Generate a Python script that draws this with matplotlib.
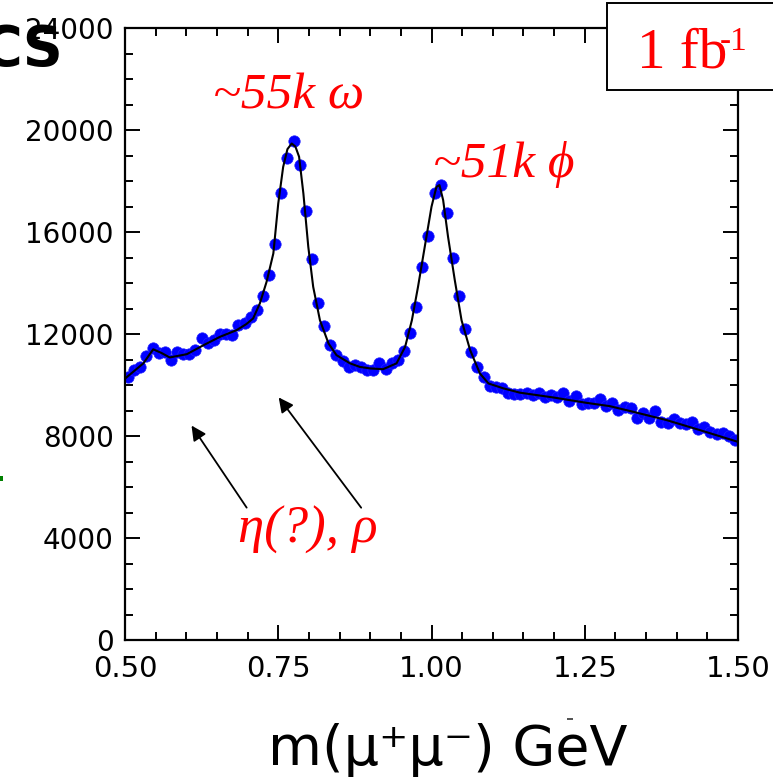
import matplotlib
matplotlib.use("Agg")
import matplotlib.pyplot as plt
import numpy as np
from matplotlib.patches import Rectangle
from matplotlib.ticker import MultipleLocator

# ---- data ----
mass = [round(0.505 + 0.01 * i, 3) for i in range(100)]
counts = [
    10320, 10580, 10710, 11130, 11460, 11240, 11280, 10980, 11280, 11210,
    11210, 11370, 11850, 11630, 11760, 12000, 12000, 11960, 12350, 12440,
    12670, 12960, 13500, 14300, 15530, 17510, 18920, 19560, 18620, 16830,
    14940, 13200, 12310, 11550, 11170, 10950, 10700, 10780, 10710, 10600,
    10590, 10850, 10610, 10870, 10980, 11330, 12050, 13040, 14630, 15850,
    17510, 17840, 16750, 14990, 13490, 12180, 11300, 10710, 10320, 9960,
    9930, 9870, 9670, 9640, 9640, 9670, 9600, 9700, 9510, 9600,
    9540, 9670, 9380, 9580, 9250, 9280, 9280, 9470, 9160, 9300,
    9020, 9150, 9080, 8690, 8890, 8690, 8990, 8560, 8520, 8650,
    8520, 8470, 8530, 8260, 8340, 8170, 8060, 8100, 8000, 7840,
]

fit_x = [0.500, 0.515, 0.530, 0.546, 0.560, 0.573, 0.601, 0.628, 0.655, 0.682,
         0.698, 0.709, 0.720, 0.731, 0.742, 0.750, 0.758, 0.765, 0.772, 0.778,
         0.784, 0.791, 0.799, 0.807, 0.818, 0.832, 0.845, 0.867, 0.883, 0.900,
         0.921, 0.943, 0.957, 0.968, 0.978, 0.989, 1.000, 1.008, 1.013, 1.019,
         1.027, 1.038, 1.049, 1.063, 1.079, 1.093, 1.117, 1.144, 1.199, 1.253,
         1.291, 1.329, 1.384, 1.438, 1.500]
fit_y = [10250, 10550, 10850, 11400, 11250, 11080, 11210, 11560, 11890, 12150,
         12390, 12610, 13200, 14050, 15160, 17120, 18550, 19250, 19470, 19350,
         18950, 17510, 15420, 13850, 12540, 11630, 11170, 10850, 10710, 10650,
         10620, 10850, 11500, 12540, 13850, 15420, 16990, 17770, 17840, 17250,
         15810, 14110, 12540, 11370, 10450, 10060, 9870, 9700, 9510, 9300,
         9170, 8950, 8620, 8230, 7770]

x_ticks = [0.50, 0.75, 1.00, 1.25, 1.50]
x_tick_labels = ["0.50", "0.75", "1.00", "1.25", "1.50"]
y_ticks = [0, 4000, 8000, 12000, 16000, 20000, 24000]
y_tick_labels = ["0", "4000", "8000", "12000", "16000", "20000", "24000"]

W, H = 773, 781
fig = plt.figure(figsize=(W / 100, H / 100), dpi=100)
ax = fig.add_axes([125 / W, 1 - 640 / H, (738 - 125) / W, (640 - 28) / H])

ax.plot(mass, counts, 'o', color='#0000ff', markersize=8.2, markeredgewidth=0.5,
        markeredgecolor='#2020ff', zorder=2)
ax.plot(fit_x, fit_y, '-', color='black', lw=1.5, zorder=3)

ax.set_xlim(0.5, 1.5)
ax.set_ylim(0, 24000)
ax.set_xticks(x_ticks)
ax.set_xticklabels(x_tick_labels)
ax.set_yticks(y_ticks)
ax.set_yticklabels(y_tick_labels)
ax.xaxis.set_minor_locator(MultipleLocator(0.05))
ax.yaxis.set_minor_locator(MultipleLocator(1000))
ax.tick_params(which='both', direction='in', top=True, right=True, width=1.4,
               labelsize=20, colors='black')
ax.tick_params(which='major', length=11, pad=8)
ax.tick_params(which='minor', length=6)
ax.tick_params(axis='x', which='major', pad=11, labelsize=21)
for lab in ax.get_xticklabels() + ax.get_yticklabels():
    lab.set_fontfamily('DejaVu Sans')
for s in ax.spines.values():
    s.set_linewidth(1.6)

serif = ['Liberation Serif', 'DejaVu Serif']
ax.text(0.644, 20850, "~55k ω", color='red', fontsize=37, style='italic',
        family=serif, ha='left', va='baseline', zorder=5)
ax.text(1.002, 18150, "~51k ϕ", color='red', fontsize=37, style='italic',
        family=serif, ha='left', va='baseline', zorder=5)
ax.text(0.684, 3800, "η(?), ρ", color='red', fontsize=38, style='italic',
        family=serif, ha='left', va='baseline', zorder=5)

arrow_kw = dict(arrowstyle='-|>', color='black', lw=1.3, mutation_scale=22)
ax.annotate("", xy=(0.606, 8500), xytext=(0.701, 5100), arrowprops=arrow_kw)
ax.annotate("", xy=(0.748, 9600), xytext=(0.888, 5100), arrowprops=arrow_kw)

# luminosity box (extends beyond right edge)
fig.patches.append(Rectangle((607 / W, 1 - 90 / H), 200 / W, 87 / H,
                             transform=fig.transFigure, facecolor='white',
                             edgecolor='black', lw=1.4, zorder=10))
fig.text(637 / W, 1 - 67 / H, "1 fb", color='red', fontsize=41,
         family=serif, ha='left', va='baseline', zorder=11)
fig.text(720 / W, 1 - 50 / H, "-1", color='red', fontsize=24,
         family=serif, ha='left', va='baseline', zorder=11)

# x axis label
fig.text(448 / W, 1 - 765 / H, "m(μ⁺μ⁻) GeV", color='black', fontsize=40,
         family='DejaVu Sans', ha='center', va='baseline')

# slide remnants
fig.text(63 / W, 1 - 65 / H, "CS", color='black', fontsize=40, weight='bold',
         family='DejaVu Sans', ha='right', va='baseline', zorder=12)
fig.patches.append(Rectangle((0, 1 - 481 / H), 3 / W, 5 / H,
                             transform=fig.transFigure, facecolor='green',
                             edgecolor='none'))
fig.patches.append(Rectangle((567 / W, 1 - 720 / H), 6 / W, 2 / H,
                             transform=fig.transFigure, facecolor='#555555',
                             edgecolor='none'))

fig.savefig("out.png", dpi=100)
